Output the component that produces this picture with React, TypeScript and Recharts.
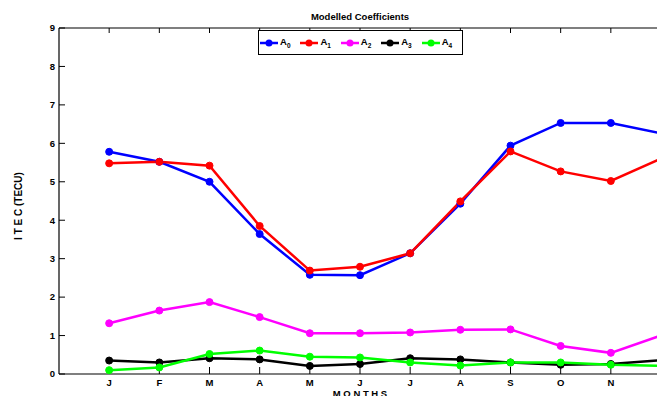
import { LineChart, Line, XAxis, YAxis, Legend } from 'recharts'

// monthly coefficients A0..A4 (TECU)
const months = ['J', 'F', 'M', 'A', 'M', 'J', 'J', 'A', 'S', 'O', 'N', 'D']
const monthIndex = [1, 2, 3, 4, 5, 6, 7, 8, 9, 10, 11, 12]
const a0 = [5.78, 5.52, 5.0, 3.64, 2.58, 2.57, 3.14, 4.43, 5.94, 6.53, 6.53, 6.26]
const a1 = [5.48, 5.52, 5.42, 3.85, 2.69, 2.79, 3.14, 4.49, 5.79, 5.27, 5.02, 5.6]
const a2 = [1.32, 1.65, 1.87, 1.48, 1.06, 1.06, 1.08, 1.15, 1.16, 0.73, 0.55, 1.0]
const a3 = [0.35, 0.3, 0.41, 0.38, 0.21, 0.26, 0.41, 0.38, 0.3, 0.24, 0.26, 0.36]
const a4 = [0.1, 0.17, 0.52, 0.61, 0.45, 0.43, 0.3, 0.22, 0.3, 0.3, 0.24, 0.21]
const yTicks = [0, 1, 2, 3, 4, 5, 6, 7, 8, 9]

const series = [
  { key: 'a0', sub: '0', color: '#0000ff' },
  { key: 'a1', sub: '1', color: '#ff0000' },
  { key: 'a2', sub: '2', color: '#ff00ff' },
  { key: 'a3', sub: '3', color: '#000000' },
  { key: 'a4', sub: '4', color: '#00ff00' },
]

const data = monthIndex.map((m, i) => ({
  m,
  a0: a0[i],
  a1: a1[i],
  a2: a2[i],
  a3: a3[i],
  a4: a4[i],
}))

const FONT = "'Liberation Sans', Arial, Helvetica, sans-serif"
const tickStyle = { fontSize: 9.5, fontWeight: 'bold', fontFamily: FONT, fill: '#000' }

const LegendBox = () => (
  <div
    style={{
      display: 'flex',
      alignItems: 'center',
      width: '100%',
      height: '100%',
      boxSizing: 'border-box',
      border: '1.5px solid #000',
      background: '#fff',
      paddingLeft: 1,
      fontFamily: FONT,
      fontWeight: 'bold',
      fontSize: 9.5,
      color: '#000',
    }}
  >
    {series.map((s) => (
      <div key={s.key} style={{ display: 'flex', alignItems: 'center', width: 41 }}>
        <svg width={18} height={10}>
          <line x1={0} y1={5} x2={18} y2={5} stroke={s.color} strokeWidth={2.5} />
          <circle cx={9} cy={5} r={3.5} fill={s.color} />
        </svg>
        <span style={{ marginLeft: 2, lineHeight: '10px' }}>
          A<span style={{ fontSize: 6.5, position: 'relative', top: 3 }}>{s.sub}</span>
        </span>
      </div>
    ))}
  </div>
)

const Title = (props: any) => {
  const vb = props.viewBox
  return (
    <text x={vb.x + vb.width / 2} y={20} textAnchor="middle" fontFamily={FONT} fontWeight="bold" fontSize={9.5} fill="#000">
      Modelled Coefficients
    </text>
  )
}

const XTitle = (props: any) => {
  const vb = props.viewBox
  return (
    <text x={vb.x + vb.width / 2} y={397} textAnchor="middle" fontFamily={FONT} fontWeight="bold" fontSize={9.5} fill="#000">
      M O N T H S
    </text>
  )
}

const YTitle = (props: any) => {
  const vb = props.viewBox
  const cx = 22
  const cy = vb.y + vb.height / 2 + 5
  return (
    <text x={cx} y={cy} transform={`rotate(-90 ${cx} ${cy})`} textAnchor="middle" fontFamily={FONT} fontWeight="bold" fontSize={10} fill="#000">
      I T E C (TECU)
    </text>
  )
}

export default function App() {
  return (
    <div style={{ position: 'fixed', left: 0, top: 0, width: 657, height: 396, overflow: 'hidden', background: '#fff' }}>
      <LineChart width={710} height={400} data={data} margin={{ top: 27, right: 48, bottom: 0, left: 0 }}>
        <XAxis
          dataKey="m"
          type="number"
          domain={[0, 12]}
          ticks={monthIndex}
          interval={0}
          tickFormatter={(v: number) => months[v - 1]}
          height={26}
          tickSize={-7}
          tickMargin={12}
          tick={tickStyle}
          stroke="#000"
          axisLine={{ stroke: '#000', strokeWidth: 1.2 }}
          tickLine={{ stroke: '#000', strokeWidth: 1 }}
          label={XTitle}
        />
        <XAxis
          xAxisId="top"
          orientation="top"
          dataKey="m"
          type="number"
          domain={[0, 12]}
          ticks={monthIndex}
          interval={0}
          tickFormatter={() => ''}
          height={1}
          tickSize={-5}
          stroke="#000"
          axisLine={{ stroke: '#000', strokeWidth: 1.2 }}
          tickLine={{ stroke: '#000', strokeWidth: 1 }}
          label={Title}
        />
        <YAxis
          type="number"
          domain={[0, 9]}
          ticks={yTicks}
          interval={0}
          width={59}
          tickSize={-6}
          tickMargin={10}
          tick={tickStyle}
          stroke="#000"
          axisLine={{ stroke: '#000', strokeWidth: 1.2 }}
          tickLine={{ stroke: '#000', strokeWidth: 1 }}
          label={YTitle}
        />
        <YAxis
          yAxisId="right"
          orientation="right"
          type="number"
          domain={[0, 9]}
          ticks={yTicks}
          interval={0}
          width={1}
          tickSize={-5}
          tickFormatter={() => ''}
          stroke="#000"
          axisLine={{ stroke: '#000', strokeWidth: 1.2 }}
          tickLine={{ stroke: '#000', strokeWidth: 1 }}
        />
        <Legend
          layout="horizontal"
          verticalAlign="middle"
          align="center"
          content={LegendBox}
          wrapperStyle={{ left: 258, top: 30, width: 205, height: 25 }}
        />
        {series.map((s) => (
          <Line
            key={s.key}
            dataKey={s.key}
            stroke={s.color}
            strokeWidth={2.5}
            dot={{ r: 3.5, fill: s.color, stroke: s.color, strokeWidth: 1 }}
            isAnimationActive={false}
          />
        ))}
      </LineChart>
    </div>
  )
}
